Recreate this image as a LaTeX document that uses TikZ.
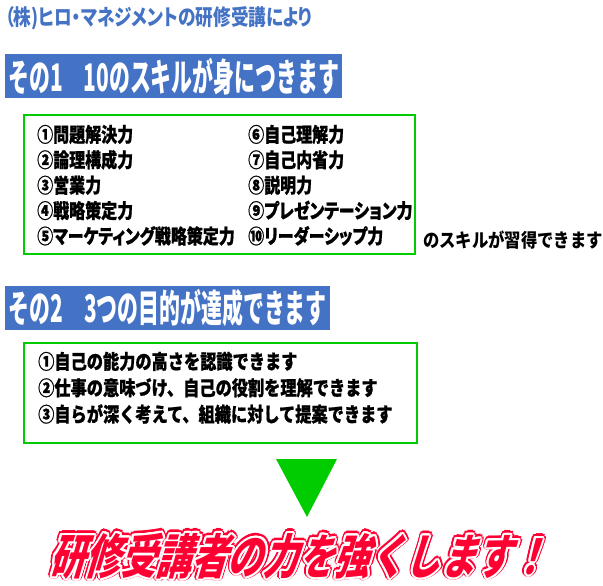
\documentclass[tikz,border=0pt]{standalone}
\usepackage{fontspec}
\usepackage{xcolor}
\usepackage{contour}
\usepackage{tikz}
\usetikzlibrary{positioning}

\newfontfamily\headfont[RawFeature=+palt, FakeStretch=0.8]{Noto Sans CJK JP}
\newfontfamily\barfont[FakeStretch=0.55]{Noto Sans CJK JP}
\newfontfamily\listfont[RawFeature=+palt, FakeStretch=0.8, FakeBold=0.8]{Noto Sans CJK JP}
\newfontfamily\goalfont[FakeStretch=0.81, FakeBold=0.8]{Noto Sans CJK JP}
\newfontfamily\notefont[FakeStretch=0.86]{Noto Sans CJK JP}
\newfontfamily\bigfont[FakeStretch=0.74, FakeSlant=0.3]{Noto Sans CJK JP}

\definecolor{barblue}{RGB}{68,114,196}
\definecolor{boxgreen}{RGB}{0,204,0}
\definecolor{strongred}{RGB}{255,0,51}

\tikzset{
  heading/.style={inner sep=0pt, text=barblue, font=\headfont\bfseries\fontsize{22pt}{22pt}\selectfont},
  bar/.style={fill=barblue, text=white, inner xsep=3pt, inner ysep=0pt, minimum height=44pt,
    font=\barfont\bfseries\fontsize{38pt}{38pt}\selectfont},
  skillbox/.style={draw=boxgreen, line width=2pt, inner sep=0pt},
  item/.style={inner sep=0pt, text height=17pt, text depth=3pt,
    font=\listfont\bfseries\fontsize{20pt}{20pt}\selectfont},
  goal/.style={inner sep=0pt, text height=17pt, text depth=3pt,
    font=\goalfont\bfseries\fontsize{20pt}{20pt}\selectfont},
  note/.style={inner sep=0pt, font=\notefont\bfseries\fontsize{19pt}{19pt}\selectfont},
  slogan/.style={inner sep=0pt, text=strongred, font=\bigfont\bfseries\fontsize{48pt}{48pt}\selectfont},
}

\begin{document}
\begin{tikzpicture}[x=1pt, y=-1pt]
  \useasboundingbox (0,0) rectangle (603,586);

  % Heading
  \node[heading, anchor=west] (company) at (5,18) {（株)ヒロ・マネジメントの研修受講により};

  % Part 1
  \node[bar, anchor=north west, minimum width=337pt] (bar1) at (5,54) {その1　10のスキルが身につきます};
  \node[skillbox, anchor=north west, minimum width=391pt, minimum height=139pt] (skills) at (23,114) {};

  \node[item, anchor=west] (skill1) at (37,135) {①問題解決力};
  \node[item, below=5pt of skill1.south west, anchor=north west] (skill2) {②論理構成力};
  \node[item, below=5pt of skill2.south west, anchor=north west] (skill3) {③営業力};
  \node[item, below=5pt of skill3.south west, anchor=north west] (skill4) {④戦略策定力};
  \node[item, below=5pt of skill4.south west, anchor=north west] (skill5) {⑤マーケティング戦略策定力};

  \node[item, anchor=west] (skill6) at (248,135) {⑥自己理解力};
  \node[item, below=5pt of skill6.south west, anchor=north west] (skill7) {⑦自己内省力};
  \node[item, below=5pt of skill7.south west, anchor=north west] (skill8) {⑧説明力};
  \node[item, below=5pt of skill8.south west, anchor=north west] (skill9) {⑨プレゼンテーション力};
  \node[item, below=5pt of skill9.south west, anchor=north west] (skill10) {⑩リーダーシップ力};

  \node[note, anchor=west] (acquire) at (423,240) {のスキルが習得できます};

  % Part 2
  \node[bar, anchor=north west, minimum width=325pt] (bar2) at (5,286) {その2　3つの目的が達成できます};
  \node[skillbox, anchor=north west, minimum width=393pt, minimum height=100pt] (goals) at (23,342) {};

  \node[goal, anchor=west] (goal1) at (38,362) {①自己の能力の高さを認識できます};
  \node[goal, below=6pt of goal1.south west, anchor=north west] (goal2) {②仕事の意味づけ、自己の役割を理解できます};
  \node[goal, below=6pt of goal2.south west, anchor=north west] (goal3) {③自らが深く考えて、組織に対して提案できます};

  % Arrow
  \fill[boxgreen] (276,459) -- (337,459) -- (307,517) -- cycle;

  % Slogan
  \node[slogan] (slogan) at (298,557) {\contourlength{3.5pt}\contour{strongred}{研修受講者の力を強くします！}};
  \node[slogan] at (slogan) {\contourlength{2pt}\contour{white}{研修受講者の力を強くします！}};

\end{tikzpicture}
\end{document}
